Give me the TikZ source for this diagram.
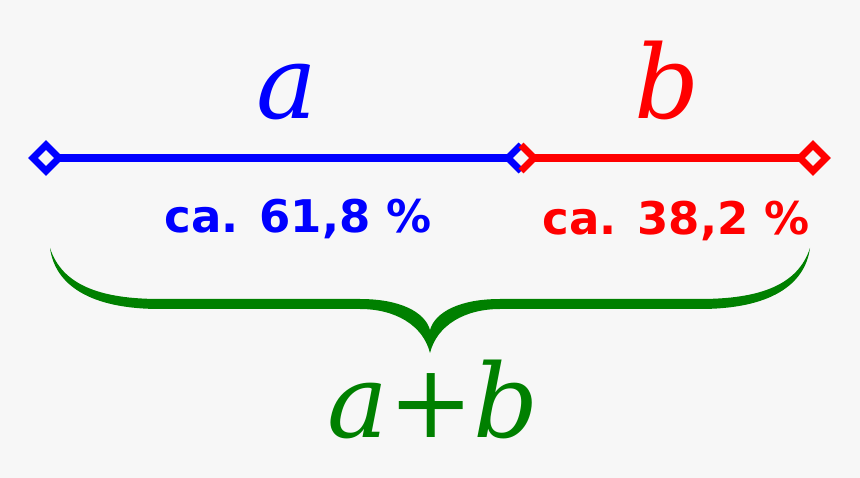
\documentclass[tikz,border=0pt]{standalone}
\usepackage{fontspec}
\setmainfont{DejaVu Serif}
\setsansfont{DejaVu Sans}
\usetikzlibrary{shapes.geometric}
\definecolor{bg}{RGB}{247,247,247}
\definecolor{dgreen}{RGB}{0,128,0}
\begin{document}
\begin{tikzpicture}[x=1pt,y=-1pt,
	endpt/.style={diamond,draw,line width=7pt,fill=bg,inner sep=0pt,outer sep=0pt,minimum size=26pt},
	seg/.style={line width=8pt},
	letter/.style={anchor=base,inner sep=0pt,font=\fontsize{102}{102}\selectfont\itshape},
	pct/.style={anchor=base,inner sep=0pt,font=\fontsize{45}{45}\selectfont\sffamily\bfseries}]

	\fill[bg] (0,0) rectangle (860,478);
	\useasboundingbox (0,0) rectangle (860,478);

	\node[endpt,draw=blue] (n1) at (46,158) {};
	\node[endpt,draw=none] (n2) at (521,158) {};
	\node[endpt,draw=red] (n3) at (813,158) {};

	\draw[seg,blue] (n1) -- (n2);
	\draw[seg,red] (n2) -- (n3);
	\draw[line width=7pt,blue,line join=miter] (n2.north) -- (n2.west) -- (n2.south);
	\draw[line width=7pt,red,line join=miter] (n2.north) -- (n2.east) -- (n2.south);

	\node[letter,text=blue] (la) at (287,119) {a};
	\node[letter,text=red] (lb) at (667,119) {b};
	\node[pct,text=blue] (pa) at (298,233) {ca. 61,8 \%};
	\node[pct,text=red] (pb) at (676,235) {ca. 38,2 \%};

	% brace
	\fill[dgreen] (50,248) .. controls (62,285) and (100,299) .. (160,299) -- (360,299)
		.. controls (400,299) and (425,312) .. (430,330)
		.. controls (435,312) and (460,299) .. (500,299) -- (700,299)
		.. controls (760,299) and (798,285) .. (810,248)
		.. controls (805,285) and (770,309) .. (700,309) -- (500,309)
		.. controls (465,309) and (437,325) .. (430,353)
		.. controls (423,325) and (395,309) .. (360,309) -- (160,309)
		.. controls (90,309) and (55,285) .. (50,248) -- cycle;

	\node[letter,text=dgreen] (sum) at (433,438) {a\textup{+}b};
\end{tikzpicture}
\end{document}
